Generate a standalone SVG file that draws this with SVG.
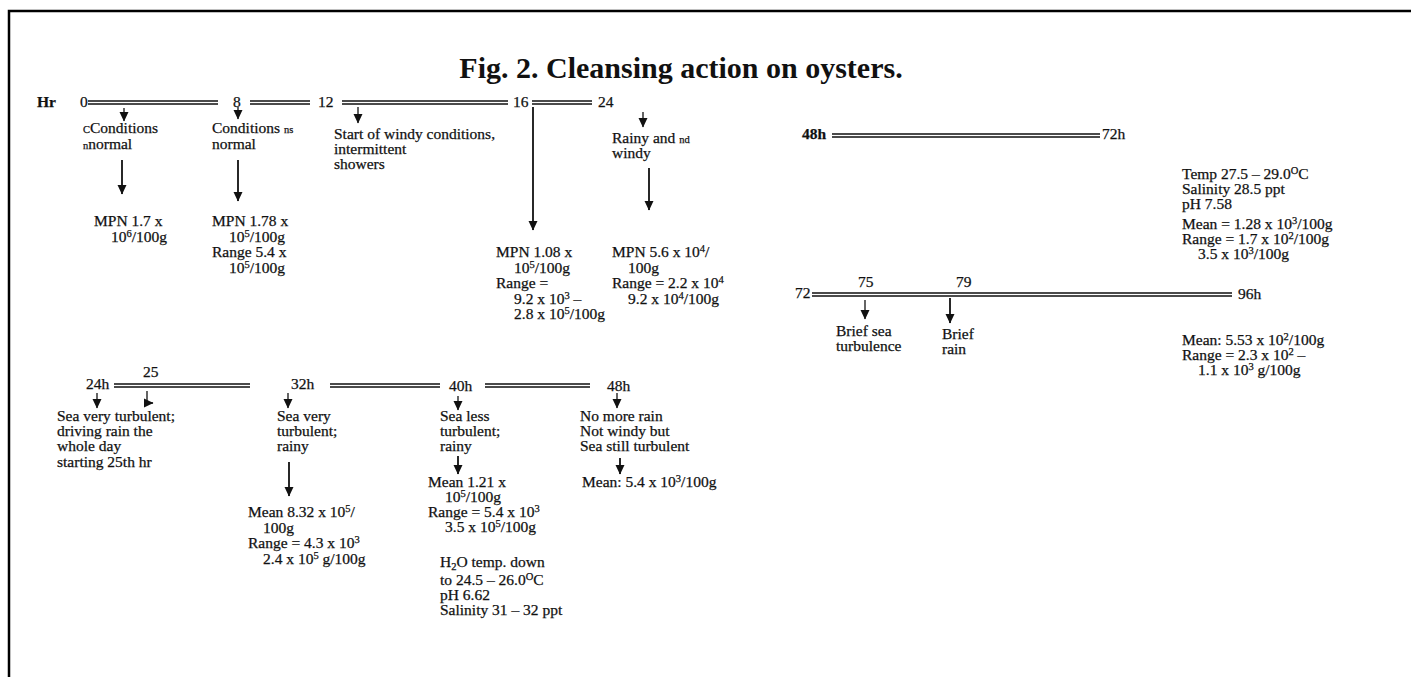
<svg xmlns="http://www.w3.org/2000/svg" width="1411" height="677" viewBox="0 0 1411 677">
<style>
text{font-family:"Liberation Serif","Times New Roman",serif;font-size:15.5px;fill:#111;stroke:#111;stroke-width:0.25}
.b{font-weight:bold}
.title{font-size:30px;font-weight:bold;stroke:none}
.s{font-size:10.5px}
.dl{stroke:#111;stroke-width:1.4;fill:none}
.ar{stroke:#111;stroke-width:1.8;fill:none;marker-end:url(#ah)}
.art{stroke:#111;stroke-width:1.3;fill:none;marker-end:url(#ah)}
.frame{stroke:#000;stroke-width:2.5;fill:none}
</style>
<defs>
<marker id="ah" markerUnits="userSpaceOnUse" markerWidth="10" markerHeight="10" refX="9" refY="5" orient="auto" viewBox="0 0 10 10">
<path d="M0,0.5 L9.5,5 L0,9.5 z" fill="#111"/>
</marker>
</defs>
<rect width="1411" height="677" fill="#fff"/>
<path class="frame" d="M9,677 V11 H1411"/>
<text class="title" x="681" y="78" text-anchor="middle">Fig. 2. Cleansing action on oysters.</text>

<g id="connectors">
<path class="dl" d="M88,101 H218 M88,104 H218"/>
<path class="dl" d="M250,101 H310 M250,104 H310"/>
<path class="dl" d="M342,101 H508 M342,104 H508"/>
<path class="dl" d="M532,101 H592 M532,104 H592"/>
<path class="dl" d="M832,134 H1100 M832,137 H1100"/>
<path class="dl" d="M812,293 H1232 M812,296 H1232"/>
<path class="dl" d="M114,384 H250 M114,387 H250"/>
<path class="dl" d="M330,384 H440 M330,387 H440"/>
<path class="dl" d="M485,384 H590 M485,387 H590"/>
<path class="art" d="M124,108 V121"/>
<path class="ar" d="M122,160 V194"/>
<path class="art" d="M238,107 V119"/>
<path class="ar" d="M238,160 V201"/>
<path class="art" d="M358,107 V123"/>
<path class="ar" d="M533,107 V230"/>
<path class="art" d="M643,112 V127"/>
<path class="ar" d="M649,168 V210"/>
<path class="art" d="M865,300 V319"/>
<path class="ar" d="M950,298 V323"/>
<path class="art" d="M97,393 V408"/>
<path class="art" d="M147,391 V403 H153"/>
<path class="art" d="M288,393 V408"/>
<path class="ar" d="M289,462 V496"/>
<path class="art" d="M458,396 V410"/>
<path class="ar" d="M458,456 V474"/>
<path class="art" d="M617,393 V408"/>
<path class="ar" d="M620,458 V474"/>
</g>

<g id="n-hr"><text class="b" x="37" y="107">Hr</text></g>
<g id="n-t0"><text x="80" y="107">0</text></g>
<g id="n-t8"><text x="233" y="107">8</text></g>
<g id="n-t12"><text x="318" y="107">12</text></g>
<g id="n-t16"><text x="513" y="107">16</text></g>
<g id="n-t24"><text x="598" y="107">24</text></g>

<g id="n-c0">
<text x="83" y="133"><tspan class="s">C</tspan>Conditions</text>
<text x="83" y="149"><tspan class="s">n</tspan>normal</text>
</g>
<g id="n-m0">
<text x="94" y="226">MPN 1.7 x</text>
<text x="111" y="242">10<tspan class="s" dy="-5">6</tspan><tspan dy="5">/100g</tspan></text>
</g>
<g id="n-c8">
<text x="212" y="133">Conditions <tspan class="s">ns</tspan></text>
<text x="212" y="149">normal</text>
</g>
<g id="n-m8">
<text x="212" y="226">MPN 1.78 x</text>
<text x="229" y="242">10<tspan class="s" dy="-5">5</tspan><tspan dy="5">/100g</tspan></text>
<text x="212" y="257">Range 5.4 x</text>
<text x="229" y="273">10<tspan class="s" dy="-5">5</tspan><tspan dy="5">/100g</tspan></text>
</g>
<g id="n-c12">
<text x="334" y="139">Start of windy conditions,</text>
<text x="334" y="154">intermittent</text>
<text x="334" y="169">showers</text>
</g>
<g id="n-m16">
<text x="496" y="257">MPN 1.08 x</text>
<text x="514" y="273">10<tspan class="s" dy="-5">5</tspan><tspan dy="5">/100g</tspan></text>
<text x="496" y="288">Range =</text>
<text x="514" y="304">9.2 x 10<tspan class="s" dy="-5">3</tspan><tspan dy="5"> –</tspan></text>
<text x="514" y="319">2.8 x 10<tspan class="s" dy="-5">5</tspan><tspan dy="5">/100g</tspan></text>
</g>
<g id="n-c24">
<text x="612" y="143">Rainy and <tspan class="s">nd</tspan></text>
<text x="612" y="158">windy</text>
</g>
<g id="n-m24">
<text x="612" y="257">MPN 5.6 x 10<tspan class="s" dy="-5">4</tspan><tspan dy="5">/</tspan></text>
<text x="628" y="273">100g</text>
<text x="612" y="288">Range = 2.2 x 10<tspan class="s" dy="-5">4</tspan></text>
<text x="628" y="304">9.2 x 10<tspan class="s" dy="-5">4</tspan><tspan dy="5">/100g</tspan></text>
</g>

<g id="n-48h"><text class="b" x="802" y="139">48h</text></g>
<g id="n-72h"><text x="1102" y="139">72h</text></g>
<g id="n-temp">
<text x="1182" y="179">Temp 27.5 – 29.0<tspan class="s" dy="-5">O</tspan><tspan dy="5">C</tspan></text>
<text x="1182" y="194">Salinity 28.5 ppt</text>
<text x="1182" y="209">pH 7.58</text>
<text x="1182" y="229">Mean = 1.28 x 10<tspan class="s" dy="-5">3</tspan><tspan dy="5">/100g</tspan></text>
<text x="1182" y="244">Range = 1.7 x 10<tspan class="s" dy="-5">2</tspan><tspan dy="5">/100g</tspan></text>
<text x="1198" y="259">3.5 x 10<tspan class="s" dy="-5">3</tspan><tspan dy="5">/100g</tspan></text>
</g>
<g id="n-72"><text x="795" y="298">72</text></g>
<g id="n-75"><text x="858" y="287">75</text></g>
<g id="n-79"><text x="956" y="287">79</text></g>
<g id="n-96h"><text x="1238" y="299">96h</text></g>
<g id="n-c75">
<text x="836" y="336">Brief sea</text>
<text x="836" y="351">turbulence</text>
</g>
<g id="n-c79">
<text x="942" y="339">Brief</text>
<text x="942" y="354">rain</text>
</g>
<g id="n-m96">
<text x="1182" y="345">Mean: 5.53 x 10<tspan class="s" dy="-5">2</tspan><tspan dy="5">/100g</tspan></text>
<text x="1182" y="360">Range = 2.3 x 10<tspan class="s" dy="-5">2</tspan><tspan dy="5"> –</tspan></text>
<text x="1198" y="375">1.1 x 10<tspan class="s" dy="-5">3</tspan><tspan dy="5"> g/100g</tspan></text>
</g>

<g id="n-24h"><text x="86" y="389">24h</text></g>
<g id="n-25"><text x="143" y="377">25</text></g>
<g id="n-32h"><text x="291" y="389">32h</text></g>
<g id="n-40h"><text x="449" y="391">40h</text></g>
<g id="n-48h2"><text x="607" y="391">48h</text></g>
<g id="n-c24h">
<text x="57" y="421">Sea very turbulent;</text>
<text x="57" y="436">driving rain the</text>
<text x="57" y="451">whole day</text>
<text x="57" y="467">starting 25th hr</text>
</g>
<g id="n-c32">
<text x="277" y="421">Sea very</text>
<text x="277" y="436">turbulent;</text>
<text x="277" y="451">rainy</text>
</g>
<g id="n-m32">
<text x="248" y="517">Mean 8.32 x 10<tspan class="s" dy="-5">5</tspan><tspan dy="5">/</tspan></text>
<text x="263" y="533">100g</text>
<text x="248" y="548">Range = 4.3 x 10<tspan class="s" dy="-5">3</tspan></text>
<text x="263" y="564">2.4 x 10<tspan class="s" dy="-5">5</tspan><tspan dy="5"> g/100g</tspan></text>
</g>
<g id="n-c40">
<text x="440" y="421">Sea less</text>
<text x="440" y="436">turbulent;</text>
<text x="440" y="451">rainy</text>
</g>
<g id="n-m40">
<text x="428" y="487">Mean 1.21 x</text>
<text x="445" y="502">10<tspan class="s" dy="-5">5</tspan><tspan dy="5">/100g</tspan></text>
<text x="428" y="517">Range = 5.4 x 10<tspan class="s" dy="-5">3</tspan></text>
<text x="445" y="532">3.5 x 10<tspan class="s" dy="-5">5</tspan><tspan dy="5">/100g</tspan></text>
</g>
<g id="n-h2o">
<text x="440" y="567">H<tspan class="s" dy="2.5">2</tspan><tspan dy="-2.5">O temp. down</tspan></text>
<text x="440" y="585">to 24.5 – 26.0<tspan class="s" dy="-5">O</tspan><tspan dy="5">C</tspan></text>
<text x="440" y="600">pH 6.62</text>
<text x="440" y="615">Salinity 31 – 32 ppt</text>
</g>
<g id="n-c48">
<text x="580" y="421">No more rain</text>
<text x="580" y="436">Not windy but</text>
<text x="580" y="451">Sea still turbulent</text>
</g>
<g id="n-m48"><text x="582" y="487">Mean: 5.4 x 10<tspan class="s" dy="-5">3</tspan><tspan dy="5">/100g</tspan></text></g>
</svg>
